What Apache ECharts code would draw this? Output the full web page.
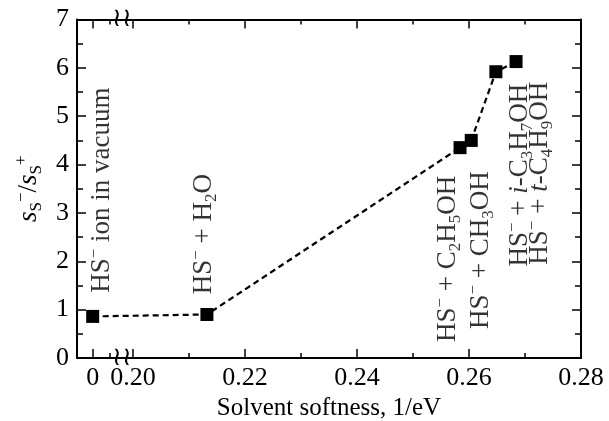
<!DOCTYPE html>
<html>
<head>
<meta charset="utf-8">
<script src="https://cdn.jsdelivr.net/npm/echarts@6.0.0/dist/echarts.min.js"></script>
<style>
  html, body { margin: 0; padding: 0; background: #fff; }
  #main { width: 609px; height: 421px; }
</style>
</head>
<body>
<div id="main"></div>
<script>
// measured points: solvent softness (1/eV) and s_S-/s_S+ ratio
var softness = [0, 0.2132, 0.2584, 0.2604, 0.2648, 0.2684];
var ratio = [0.86, 0.90, 4.35, 4.50, 5.92, 6.13];

// x tick marks (real values), the axis is broken between 0 and 0.20
var xMajorTicks = [0, 0.20, 0.22, 0.24, 0.26, 0.28];
var xTickLabels = ['0', '0.20', '0.22', '0.24', '0.26', '0.28'];
var xMinorTicks = [0.003, 0.21, 0.23, 0.25, 0.27];

// vertical annotations (text, centre in data units)
var noteTexts = [
    'HS{sup|−} ion in vacuum',
    'HS{sup|−} + H{sub|2}O',
    'HS{sup|−} + C{sub|2}H{sub|5}OH',
    'HS{sup|−} + CH{sub|3}OH',
    'HS{sup|−} + {it|i}-C{sub|3}H{sub|7}OH',
    'HS{sup|−} + {it|t}-C{sub|4}H{sub|9}OH'
];
var noteX = [0.0016, 0.2127, 0.2563, 0.2622, 0.2691, 0.2727];
var noteY = [3.47, 2.56, 2.05, 2.23, 3.78, 3.82];

// where real 0 sits on the axis, and where the break mark goes
var ZERO_U = 0.1928;
var BREAK_U = 0.198;

function toAxis(x) {
    // values left of the break are shifted next to 0.20
    return x < 0.1 ? x + ZERO_U : x;
}

var serif = 'Liberation Serif';
var richText = {
    sup: { fontSize: 17, lineHeight: 16, verticalAlign: 'top', fontFamily: serif, color: '#000' },
    sub: { fontSize: 17, lineHeight: 16, verticalAlign: 'bottom', fontFamily: serif, color: '#000' },
    it: { fontSize: 27, lineHeight: 32, fontStyle: 'italic', fontFamily: serif, color: '#000' }
};

var lineData = [];
for (var i = 0; i < softness.length; i++) {
    lineData.push([toAxis(softness[i]), ratio[i]]);
}
var noteData = [];
for (var j = 0; j < noteTexts.length; j++) {
    noteData.push({ name: noteTexts[j], value: [toAxis(noteX[j]), noteY[j]] });
}

function xAxisDef(pos, major, withLine) {
    var ticks = (major ? xMajorTicks : xMinorTicks).map(toAxis);
    return {
        type: 'value',
        position: pos,
        min: 0.19,
        max: 0.28,
        axisLine: { show: withLine, lineStyle: { color: '#000', width: 2 } },
        axisTick: {
            show: true, inside: true, length: major ? 9 : 5,
            customValues: ticks,
            lineStyle: { color: '#000', width: 1.5 }
        },
        axisLabel: { show: false },
        splitLine: { show: false }
    };
}

var bottomAxis = xAxisDef('bottom', true, true);
bottomAxis.axisLabel = {
    show: true,
    customValues: xMajorTicks.map(toAxis),
    margin: 7,
    fontSize: 26,
    fontFamily: serif,
    color: '#000',
    formatter: function(v) {
        var best = 0;
        for (var k = 0; k < xMajorTicks.length; k++) {
            if (Math.abs(toAxis(xMajorTicks[k]) - v) < Math.abs(toAxis(xMajorTicks[best]) - v)) best = k;
        }
        return xTickLabels[best];
    }
};
bottomAxis.name = 'Solvent softness, 1/eV';
bottomAxis.nameLocation = 'middle';
bottomAxis.nameGap = 37;
bottomAxis.nameTextStyle = { fontSize: 25, fontFamily: serif, color: '#000' };

function yAxisDef(pos, labels) {
    return {
        type: 'value',
        position: pos,
        min: 0,
        max: 7,
        interval: 1,
        axisLine: { show: true, lineStyle: { color: '#000', width: 2 } },
        axisTick: { show: true, inside: true, length: 9, lineStyle: { color: '#000', width: 1.5 } },
        minorTick: { show: true, splitNumber: 2, length: 6, lineStyle: { color: '#000', width: 1.5 } },
        axisLabel: { show: labels, margin: 8, fontSize: 26, fontFamily: serif, color: '#000' },
        splitLine: { show: false },
        minorSplitLine: { show: false }
    };
}

var leftAxis = yAxisDef('left', true);
leftAxis.name = '{it|s}{sub|S}{sup|−}{n|/}{it|s}{sub|S}{sup|+}';
leftAxis.nameLocation = 'middle';
leftAxis.nameRotate = 90;
leftAxis.nameGap = 30;
leftAxis.nameTextStyle = {
    fontSize: 27, fontFamily: serif, color: '#000',
    rich: {
        it: richText.it,
        sub: richText.sub,
        sup: richText.sup,
        n: { fontSize: 27, lineHeight: 32, fontFamily: serif, color: '#000' }
    }
};

var chart = echarts.init(document.getElementById('main'), null, { renderer: 'canvas' });
chart.setOption({
    animation: false,
    backgroundColor: '#fff',
    grid: { left: 77, right: 28, top: 19.5, bottom: 63, containLabel: false, outerBoundsMode: 'none' },
    xAxis: [
        bottomAxis,
        xAxisDef('bottom', false, false),
        xAxisDef('top', true, true),
        xAxisDef('top', false, false)
    ],
    yAxis: [leftAxis, yAxisDef('right', false)],
    series: [
        {
            type: 'line',
            data: lineData,
            symbol: 'rect',
            symbolSize: 13,
            itemStyle: { color: '#000' },
            lineStyle: { color: '#000', width: 2.2, type: [6, 4] },
            z: 3
        },
        {
            type: 'scatter',
            data: noteData,
            symbolSize: 1,
            itemStyle: { color: 'rgba(0,0,0,0)' },
            label: {
                show: true,
                position: 'inside',
                rotate: 90,
                align: 'center',
                verticalAlign: 'middle',
                fontSize: 27,
                lineHeight: 32,
                fontFamily: serif,
                color: '#000',
                formatter: function(p) { return p.name; },
                rich: richText
            },
            z: 2
        }
    ]
});

// break marks on the top and bottom axis lines
var pBottom = chart.convertToPixel({ xAxisIndex: 0, yAxisIndex: 0 }, [BREAK_U, 0]);
var pTop = chart.convertToPixel({ xAxisIndex: 0, yAxisIndex: 0 }, [BREAK_U, 7]);
chart.setOption({
    graphic: [pBottom, pTop].map(function(p) {
        return {
            type: 'text',
            x: p[0],
            y: p[1],
            z: 10,
            style: {
                text: '≀≀',
                font: '26px "DejaVu Serif"',
                fill: '#000',
                align: 'center',
                verticalAlign: 'middle'
            }
        };
    })
});
</script>
</body>
</html>
